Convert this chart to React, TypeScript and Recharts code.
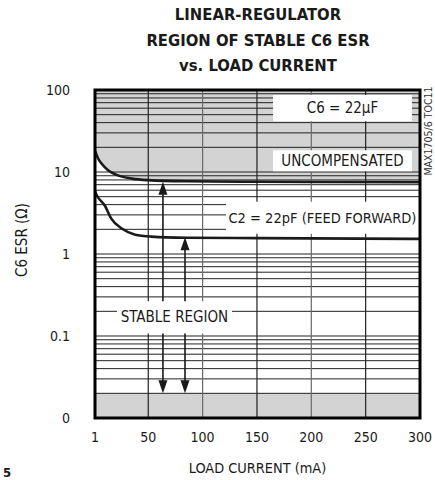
import React from "react";
import {
  ComposedChart,
  Line,
  Area,
  XAxis,
  YAxis,
  ReferenceArea,
  ReferenceLine,
} from "recharts";

// ---- data ----
const uncompCurrent = [1, 4, 7, 13, 22, 35, 50, 85, 150, 200, 300];
const uncompESR = [18, 14.5, 12.7, 10.5, 9.1, 8.3, 7.95, 7.7, 7.6, 7.55, 7.5];

const ffCurrent = [1, 3, 10, 16, 26, 38, 53, 85, 150, 300];
const ffESR = [5.8, 5.1, 3.9, 2.7, 2.03, 1.72, 1.63, 1.58, 1.56, 1.53];

const xTicks = [1, 50, 100, 150, 200, 250, 300];
const yTicks = [0.01, 0.1, 1, 10, 100];
const yTickLabels = ["0", "0.1", "1", "10", "100"];
const verticalGrid = [50, 100, 150, 200, 250];
const decades = [0.01, 0.1, 1, 10];
const gridMultipliers = [2, 3, 4, 5, 6, 7, 8, 9, 10];
const horizontalGrid = decades.flatMap((d) => gridMultipliers.map((k) => +(k * d).toPrecision(3)));

const uncompData = uncompCurrent.map((x, i) => ({ x, esr: uncompESR[i] }));
const ffData = ffCurrent.map((x, i) => ({ x, esr: ffESR[i] }));

const FONT = "'Liberation Sans Narrow', 'DejaVu Sans Condensed', 'Arial Narrow', sans-serif";
const GRAY = "#d3d3d3";
const INK = "#1a1a1a";

const ArrowShape = (p: any) => {
  const { x1, y1, x2, y2 } = p;
  if ([x1, y1, x2, y2].some((v) => v == null || isNaN(v))) return null;
  const x = x1;
  const top = Math.min(y1, y2);
  const bot = Math.max(y1, y2);
  const h = 13;
  const w = 4.5;
  return (
    <g>
      <line x1={x} y1={top + h - 1} x2={x} y2={bot - h + 1} stroke={INK} strokeWidth={1.6} />
      <polygon points={`${x},${top} ${x - w},${top + h} ${x + w},${top + h}`} fill={INK} />
      <polygon points={`${x},${bot} ${x - w},${bot - h} ${x + w},${bot - h}`} fill={INK} />
    </g>
  );
};

const boxLabel = (text: string, size = 15) => (props: any) => {
  const vb = props.viewBox || {};
  return (
    <text
      x={vb.x + vb.width / 2}
      y={vb.y + vb.height / 2}
      textAnchor="middle"
      dominantBaseline="central"
      fontFamily={FONT}
      fontSize={size}
      fill={INK}
    >
      {text}
    </text>
  );
};

const yLabel = (props: any) => {
  const vb = props.viewBox || {};
  const cx = 22;
  const cy = vb.y + vb.height / 2 - 14;
  return (
    <text
      x={cx}
      y={cy}
      transform={`rotate(-90 ${cx} ${cy})`}
      textAnchor="middle"
      dominantBaseline="central"
      fontFamily={FONT}
      fontSize={15}
      fill={INK}
    >
      C6 ESR (Ω)
    </text>
  );
};

export default function App() {
  return (
    <div style={{ position: "absolute", left: 0, top: 0, width: 435, height: 480, background: "#fff" }}>
      <ComposedChart width={435} height={480} margin={{ top: 90, right: 15, left: 0, bottom: 0 }}>
        <XAxis
          dataKey="x"
          type="number"
          domain={[1, 300]}
          ticks={xTicks}
          allowDataOverflow
          tickLine={false}
          axisLine={false}
          tickSize={0}
          tickMargin={14}
          height={62}
          tick={{ fontFamily: FONT, fontSize: 14, fill: INK }}
          label={{
            value: "LOAD CURRENT (mA)",
            position: "insideBottom",
            offset: 7,
            style: { fontFamily: FONT, fontSize: 14.4, fill: INK },
          }}
        />
        <YAxis
          type="number"
          scale="log"
          domain={[0.01, 100]}
          ticks={yTicks}
          allowDataOverflow
          tickFormatter={(v: number) => yTickLabels[yTicks.indexOf(v)] ?? String(v)}
          tickLine={false}
          axisLine={false}
          tickSize={0}
          tickMargin={25}
          width={95}
          tick={{ fontFamily: FONT, fontSize: 14, fill: INK }}
          label={{ content: yLabel }}
        />
        <Area
          data={uncompData}
          dataKey={(d: any) => [d.esr, 100]}
          type="monotone"
          stroke="none"
          fill={GRAY}
          fillOpacity={1}
          isAnimationActive={false}
          zIndex={100}
        />
        <ReferenceArea
          x1={1}
          x2={300}
          y1={0.01}
          y2={0.02}
          fill={GRAY}
          fillOpacity={1}
          stroke="none"
          zIndex={100}
        />
        {horizontalGrid.map((v) => (
          <ReferenceLine key={`h${v}`} y={v} stroke="#222" strokeWidth={1} zIndex={200} />
        ))}
        {verticalGrid.map((v) => (
          <ReferenceLine
            key={`v${v}`}
            x={v}
            stroke={v % 100 === 0 ? "#6a6a6a" : "#222"}
            strokeWidth={1.2}
            zIndex={200}
          />
        ))}
        <Line
          data={uncompData}
          dataKey="esr"
          type="monotone"
          stroke={INK}
          strokeWidth={2.6}
          dot={false}
          isAnimationActive={false}
          zIndex={400}
        />
        <Line
          data={ffData}
          dataKey="esr"
          type="monotone"
          stroke={INK}
          strokeWidth={2.6}
          dot={false}
          isAnimationActive={false}
          zIndex={400}
        />
        <ReferenceLine
          segment={[{ x: 63.5, y: 7.6 }, { x: 63.5, y: 0.02 }]}
          shape={ArrowShape}
          zIndex={450}
        />
        <ReferenceLine
          segment={[{ x: 83.8, y: 1.6 }, { x: 83.8, y: 0.02 }]}
          shape={ArrowShape}
          zIndex={450}
        />
        <ReferenceArea x1={164.8} x2={292.6} y1={41.6} y2={86.9} fill="#fff" fillOpacity={1} stroke="none" zIndex={500} label={boxLabel("C6 = 22µF")} />
        <ReferenceArea x1={164.8} x2={292.6} y1={10.2} y2={18.4} fill="#fff" fillOpacity={1} stroke="none" zIndex={500} label={boxLabel("UNCOMPENSATED")} />
        <ReferenceArea x1={121.5} x2={299} y1={1.76} y2={4.35} fill="#fff" fillOpacity={1} stroke="none" zIndex={500} label={boxLabel("C2 = 22pF (FEED FORWARD)", 14.5)} />
        <ReferenceArea x1={21.2} x2={127} y1={0.107} y2={0.265} fill="#fff" fillOpacity={1} stroke="none" zIndex={500} label={boxLabel("STABLE REGION")} />
        <ReferenceArea
          x1={1}
          x2={300}
          y1={0.01}
          y2={100}
          fill="none"
          stroke="#000"
          strokeWidth={3}
          zIndex={600}
        />
      </ComposedChart>
      <svg
        width={435}
        height={480}
        style={{ position: "absolute", left: 0, top: 0, pointerEvents: "none" }}
      >
        <g fontFamily={FONT} fontWeight="bold" fontSize={16.5} fill={INK} textAnchor="middle">
          <text x={258} y={20}>LINEAR-REGULATOR</text>
          <text x={258} y={46}>REGION OF STABLE C6 ESR</text>
          <text x={258} y={71}>vs. LOAD CURRENT</text>
        </g>
        <text
          x={432}
          y={131}
          transform="rotate(-90 432 131)"
          textAnchor="middle"
          fontFamily={FONT}
          fontSize={10.5}
          fill="#333"
        >
          MAX1705/6 TOC11
        </text>
        <text x={3} y={477} fontFamily={FONT} fontWeight="bold" fontSize={13} fill={INK}>
          5
        </text>
      </svg>
    </div>
  );
}
